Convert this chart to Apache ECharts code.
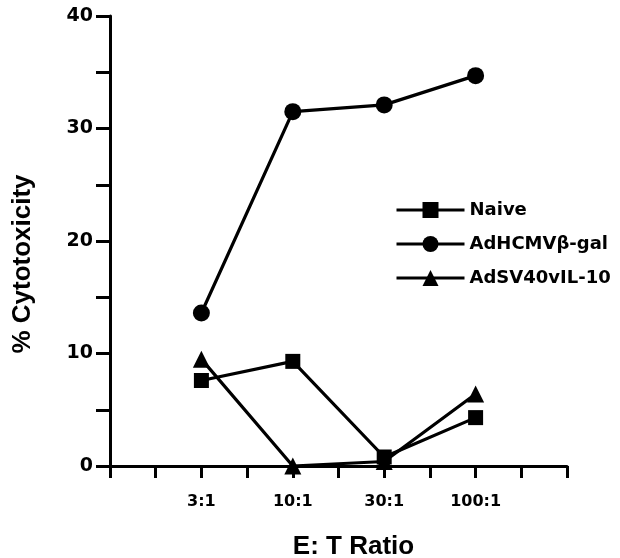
<!DOCTYPE html>
<html>
<head>
<meta charset="utf-8">
<script src="https://cdn.jsdelivr.net/npm/echarts@6/dist/echarts.min.js"></script>
<style>html,body{margin:0;padding:0;background:#fff}#c{width:620px;height:558px}</style>
</head>
<body>
<div id="c"></div>
<script>
var categories = ['3:1', '10:1', '30:1', '100:1'];
var naive = [7.6, 9.3, 0.8, 4.3];
var adHCMV = [13.6, 31.5, 32.1, 34.7];
var adSV40 = [9.5, 0.0, 0.4, 6.4];
var yTicks = [0, 10, 20, 30, 40];

function pos(i) { return 2 + 2 * i; }
function pts(arr) { return arr.map(function (v, i) { return [pos(i), v]; }); }
var labelMap = {};
categories.forEach(function (c, i) { labelMap[pos(i)] = c; });

var font = '"Liberation Sans", Arial, Helvetica, sans-serif';
var wide = '"DejaVu Sans", sans-serif';
var chart = echarts.init(document.getElementById('c'), null, { renderer: 'canvas' });
var lineStyle = { color: '#000', width: 3.2 };
chart.setOption({
  animation: false,
  backgroundColor: '#fff',
  grid: { left: 110, right: 53, top: 16, bottom: 92, containLabel: false, outerBoundsMode: 'none' },
  legend: {
    left: 390, top: 194, orient: 'vertical',
    itemWidth: 68, itemHeight: 20, itemGap: 12,
    lineStyle: { width: 3, color: '#000' },
    textStyle: { fontFamily: wide, fontWeight: 'bold', fontSize: 18, color: '#000', lineHeight: 22 },
    data: ['Naive', 'AdHCMVβ-gal', 'AdSV40vIL-10']
  },
  xAxis: {
    type: 'value', min: 0, max: 10, interval: 1,
    name: 'E: T Ratio', nameLocation: 'middle', nameGap: 68,
    nameTextStyle: { fontFamily: font, fontWeight: 'bold', fontSize: 26, color: '#000', padding: [0, 0, 0, 30] },
    axisLine: { lineStyle: { color: '#000', width: 3 } },
    axisTick: { show: true, length: 12, lineStyle: { color: '#000', width: 3 } },
    axisLabel: {
      margin: 28, fontFamily: wide, fontWeight: 'bold', fontSize: 16, color: '#000',
      formatter: function (v) { return labelMap[v] || ''; }
    },
    splitLine: { show: false }
  },
  yAxis: {
    type: 'value', min: 0, max: 40, interval: 5,
    name: '% Cytotoxicity', nameLocation: 'middle', nameGap: 74, nameRotate: 90,
    nameTextStyle: { fontFamily: font, fontWeight: 'bold', fontSize: 26, color: '#000', padding: [0, 46, 0, 0] },
    axisLine: { show: true, lineStyle: { color: '#000', width: 3 } },
    axisTick: { show: true, length: 14, lineStyle: { color: '#000', width: 3 } },
    axisLabel: {
      margin: 17, fontFamily: wide, fontWeight: 'bold', fontSize: 19, color: '#000',
      formatter: function (v) { return yTicks.indexOf(v) >= 0 ? String(v) : ''; }
    },
    splitLine: { show: false }
  },
  series: [
    { name: 'Naive', type: 'line', data: pts(naive), symbol: 'rect', symbolSize: 15,
      itemStyle: { color: '#000' }, lineStyle: lineStyle, z: 3 },
    { name: 'AdHCMVβ-gal', type: 'line', data: pts(adHCMV), symbol: 'circle', symbolSize: 17,
      itemStyle: { color: '#000' }, lineStyle: lineStyle, z: 2 },
    { name: 'AdSV40vIL-10', type: 'line', data: pts(adSV40), symbol: 'triangle', symbolSize: 17,
      itemStyle: { color: '#000' }, lineStyle: lineStyle, z: 2 }
  ]
});
</script>
</body>
</html>
